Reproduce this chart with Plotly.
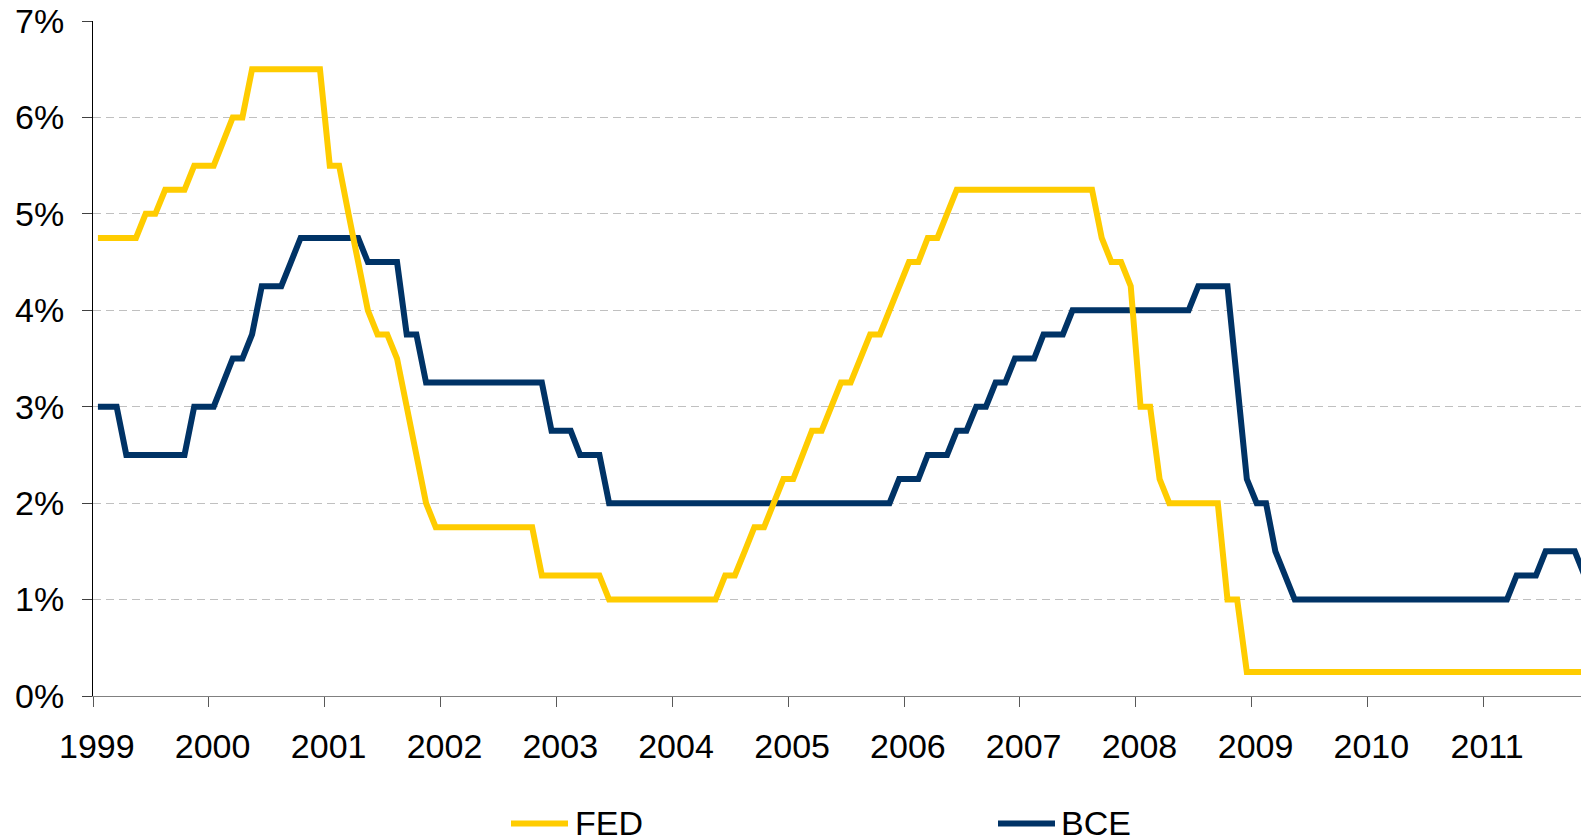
import pandas as pd
import plotly.graph_objects as go

# ---- data (end-of-month policy rates, %) ----
months = pd.date_range("1999-01-01", "2011-12-01", freq="MS")

fed = (
    [4.75] * 5 + [5.00] * 2 + [5.25] * 3 + [5.50] * 2 +                      # 1999
    [5.50, 5.75, 6.00, 6.00] + [6.50] * 8 +                                  # 2000
    [5.50, 5.50, 5.00, 4.50, 4.00, 3.75, 3.75, 3.50, 3.00, 2.50, 2.00, 1.75] +  # 2001
    [1.75] * 10 + [1.25] * 2 +                                               # 2002
    [1.25] * 5 + [1.00] * 7 +                                                # 2003
    [1.00] * 5 + [1.25, 1.25, 1.50, 1.75, 1.75, 2.00, 2.25] +                # 2004
    [2.25, 2.50, 2.75, 2.75, 3.00, 3.25, 3.25, 3.50, 3.75, 3.75, 4.00, 4.25] +  # 2005
    [4.50, 4.50, 4.75, 4.75, 5.00] + [5.25] * 7 +                            # 2006
    [5.25] * 8 + [4.75, 4.50, 4.50, 4.25] +                                  # 2007
    [3.00, 3.00, 2.25] + [2.00] * 6 + [1.00, 1.00, 0.25] +                   # 2008
    [0.25] * 36                                                              # 2009-2011
)

bce = (
    [3.00] * 3 + [2.50] * 7 + [3.00] * 2 +                                   # 1999
    [3.00, 3.25, 3.50, 3.50, 3.75, 4.25, 4.25, 4.25, 4.50, 4.75, 4.75, 4.75] +  # 2000
    [4.75] * 4 + [4.50] * 4 + [3.75, 3.75, 3.25, 3.25] +                     # 2001
    [3.25] * 11 + [2.75] +                                                   # 2002
    [2.75, 2.75, 2.50, 2.50, 2.50] + [2.00] * 7 +                            # 2003
    [2.00] * 12 +                                                            # 2004
    [2.00] * 11 + [2.25] +                                                   # 2005
    [2.25, 2.25, 2.50, 2.50, 2.50, 2.75, 2.75, 3.00, 3.00, 3.25, 3.25, 3.50] +  # 2006
    [3.50, 3.50, 3.75, 3.75, 3.75] + [4.00] * 7 +                            # 2007
    [4.00] * 6 + [4.25] * 4 + [3.25, 2.25] +                                 # 2008
    [2.00, 2.00, 1.50, 1.25] + [1.00] * 8 +                                  # 2009
    [1.00] * 12 +                                                            # 2010
    [1.00] * 3 + [1.25] * 3 + [1.50] * 4 + [1.25, 1.00]                      # 2011
)

series_names = ["FED", "BCE"]
series_colors = ["#FFCC00", "#003366"]
year_labels = [str(y) for y in range(1999, 2012)]
y_ticks = list(range(0, 8))

# points sit in the middle of each monthly slot
mid_month = months + (months.shift(1, freq="MS") - months) / 2

FONT = "Liberation Sans, Arial, sans-serif"

fig = go.Figure()
fig.add_trace(go.Scatter(x=mid_month, y=bce, mode="lines", name=series_names[1],
                         line=dict(color=series_colors[1], width=6), showlegend=False))
fig.add_trace(go.Scatter(x=mid_month, y=fed, mode="lines", name=series_names[0],
                         line=dict(color=series_colors[0], width=6), showlegend=False))

W, H = 1581, 838
ML, MT, MR, MB = 93, 21, 0, 142
pw, ph = W - ML - MR, H - MT - MB


def px_x(p):
    return (p - ML) / pw


def px_y(p):
    return (H - MB - p) / ph


# manual legend
legend_items = [(series_names[0], series_colors[0], 511, 568, 573),
                (series_names[1], series_colors[1], 998, 1055, 1059)]
shapes, annotations = [], []
for name, col, x0, x1, xt in legend_items:
    shapes.append(dict(type="line", xref="paper", yref="paper",
                       x0=px_x(x0), x1=px_x(x1), y0=px_y(823.5), y1=px_y(823.5),
                       line=dict(color=col, width=6)))
    annotations.append(dict(xref="paper", yref="paper", x=px_x(xt), y=px_y(823),
                            xanchor="left", yanchor="middle", showarrow=False,
                            text=name, font=dict(family=FONT, size=34, color="#000000")))

fig.update_layout(
    width=W, height=H,
    margin=dict(l=ML, r=MR, t=MT, b=MB, pad=0, autoexpand=False),
    paper_bgcolor="white", plot_bgcolor="white",
    font=dict(family=FONT, size=34, color="#000000"),
    shapes=shapes, annotations=annotations,
    showlegend=False,
)

year_starts = pd.to_datetime([f"{y}-01-01" for y in year_labels])
label_pos = year_starts + pd.Timedelta(days=12)   # labels sit slightly right of the tick marks

fig.update_xaxes(
    type="date",
    range=["1999-01-01", "2011-11-05"],
    tickvals=label_pos,
    ticktext=year_labels,
    ticks="", ticklen=0,
    minor=dict(tickvals=year_starts, ticks="outside", ticklen=10,
               tickcolor="#595959", tickwidth=1, showgrid=False),
    showline=True, linecolor="#808080", linewidth=1,
    showgrid=False, zeroline=False, automargin=False,
    tickfont=dict(family=FONT, size=34, color="#000000"),
    ticklabelstandoff=20,
)

fig.update_yaxes(
    range=[0, 7],
    tickvals=y_ticks,
    ticktext=[f"{v}%" for v in y_ticks],
    ticks="outside", ticklen=10, tickcolor="#404040", tickwidth=1,
    showline=True, linecolor="#000000", linewidth=1,
    showgrid=True, gridcolor="#C0C0C0", gridwidth=1, griddash="8px,5px",
    zeroline=False, automargin=False,
    tickfont=dict(family=FONT, size=34, color="#000000"),
    ticklabelstandoff=11,
)

fig.write_html("out.html", config={"displayModeBar": False},
               post_script="document.body.style.margin='0px';document.body.style.overflow='hidden';")
